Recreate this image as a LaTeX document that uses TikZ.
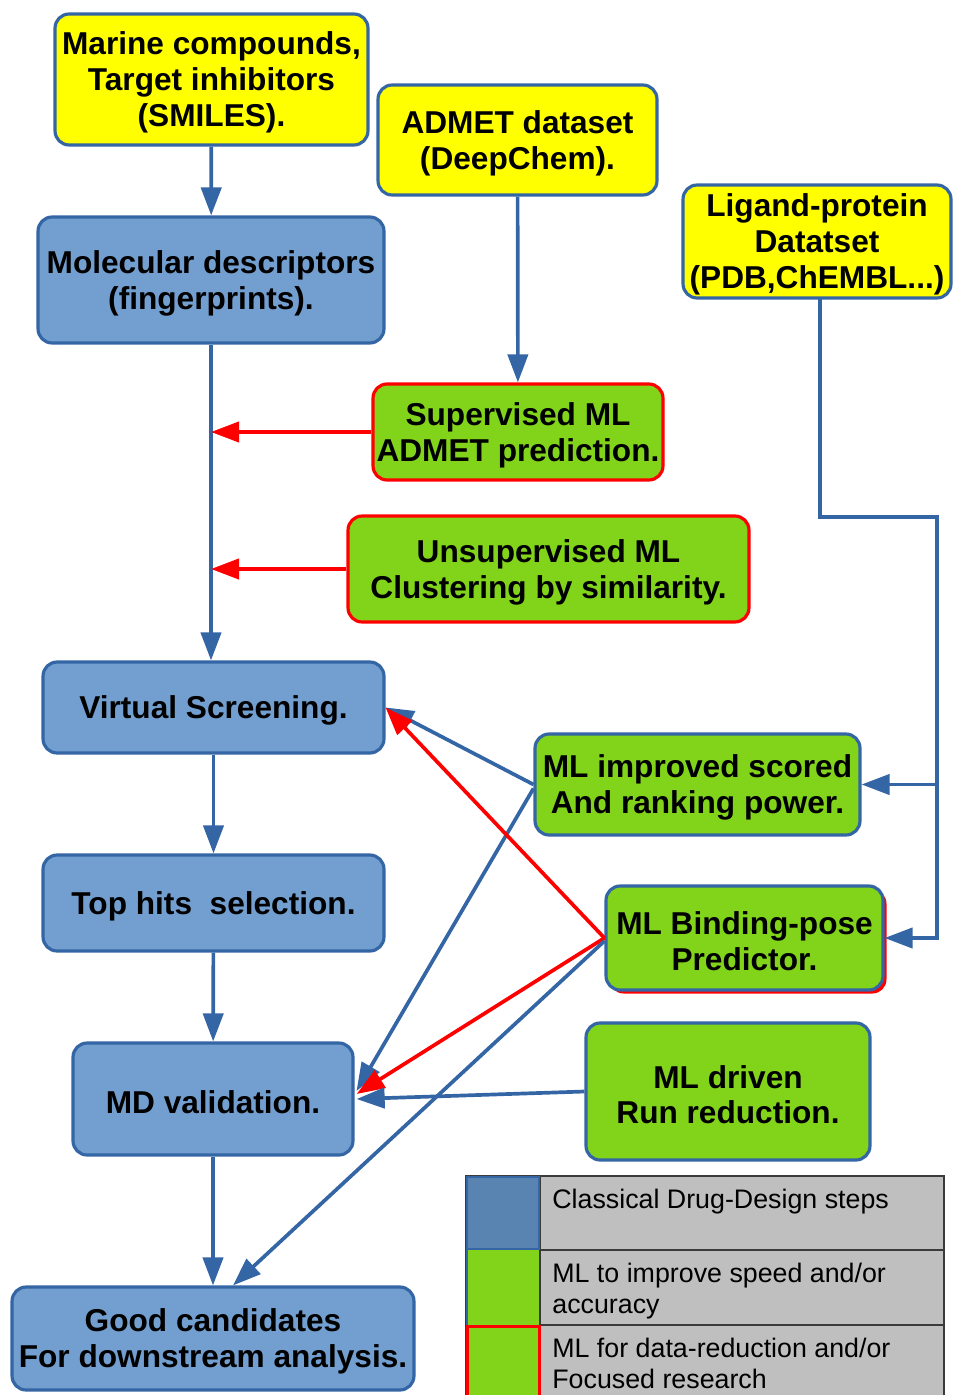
\documentclass[tikz,border=0pt]{standalone}
\usepackage{fontspec}
\setmainfont{Liberation Sans}
\usetikzlibrary{arrows.meta,shadows,calc}
\definecolor{yel}{HTML}{FFFF00}
\definecolor{nblue}{HTML}{729FCF}
\definecolor{bordblue}{HTML}{3465A4}
\definecolor{lime}{HTML}{81D41A}
\definecolor{lgray}{HTML}{BFBFBF}
\definecolor{swblue}{HTML}{5983B0}
\definecolor{gridc}{HTML}{3A3A3A}
\newcommand{\upsp}{\rule{0pt}{16.6pt}}
\begin{document}
\begin{tikzpicture}[x=0.02cm,y=-0.02cm,
  box/.style={rounded corners=8pt, line width=1.8pt, draw=bordblue, align=center, inner sep=0pt,
    font=\bfseries\fontsize{18}{20.4}\selectfont},
  ybox/.style={box, fill=yel},
  bbox/.style={box, fill=nblue},
  gbox/.style={box, fill=lime},
  rbox/.style={box, fill=lime, draw=red},
  tip/.style={-{Triangle[length=16pt,width=11.5pt]}},
  barrow/.style={draw=bordblue, line width=2.1pt, tip},
  rarrow/.style={draw=red, line width=2.1pt, tip},
  legtext/.style={anchor=base west, inner sep=0pt, font=\fontsize{15.25}{17.6}\selectfont}
]
\useasboundingbox (0,0) rectangle (953,1395);

% nodes
\node[ybox, minimum width=6.26cm, minimum height=2.62cm] (marine) at (211.5,79.5)
  {\upsp Marine compounds,\\Target inhibitors\\(SMILES).};
\node[ybox, minimum width=5.58cm, minimum height=2.2cm] (admet) at (517.5,140)
  {\upsp ADMET dataset\\(DeepChem).};
\node[ybox, minimum width=5.36cm, minimum height=2.26cm] (lig) at (817,241.5)
  {\upsp Ligand-protein\\Datatset\\(PDB,ChEMBL...)};
\node[bbox, minimum width=6.92cm, minimum height=2.52cm] (mol) at (211,280)
  {\upsp Molecular descriptors\\(fingerprints).};
\node[rbox, minimum width=5.8cm, minimum height=1.92cm] (sup) at (518,432)
  {\upsp Supervised ML\\ADMET prediction.};
\node[rbox, minimum width=8.02cm, minimum height=2.12cm] (unsup) at (548.5,569)
  {\upsp Unsupervised ML\\Clustering by similarity.};
\node[bbox, minimum width=6.82cm, minimum height=1.82cm] (vs) at (213.5,707.5)
  {\upsp Virtual Screening.};
\node[gbox, minimum width=6.5cm, minimum height=2.02cm] (mli) at (697.5,784.5)
  {\upsp ML improved scored\\And ranking power.};
\node[bbox, minimum width=6.82cm, minimum height=1.92cm] (top) at (213.5,903)
  {\upsp Top hits\ \ selection.};
\node[gbox, minimum width=5.54cm, minimum height=2.08cm,
  drop shadow={shadow xshift=2pt, shadow yshift=-2pt, fill=red, opacity=1}] (bind) at (744.5,938)
  {\upsp ML Binding-pose\\Predictor.};
\node[bbox, minimum width=5.6cm, minimum height=2.24cm] (md) at (213,1099)
  {\upsp MD validation.};
\node[gbox, minimum width=5.68cm, minimum height=2.74cm] (drv) at (728,1091.5)
  {\upsp ML driven\\Run reduction.};
\node[bbox, minimum width=8.04cm, minimum height=2.06cm] (good) at (213,1338.5)
  {\upsp Good candidates\\For downstream analysis.};

% junction coordinates
\coordinate (a1) at (211,432);
\coordinate (a2) at (211,569);
\coordinate (l0) at (820,298);
\coordinate (j1) at (937,517);
\coordinate (j2) at (937,784.5);
\coordinate (j3) at (937,938);

% main flow
\draw[barrow] (marine) -- (mol);
\draw[barrow] (mol.south) -- (mol.south |- vs.north);
\draw[barrow] (admet) -- (sup);
\draw[rarrow] (sup.west) -- (a1);
\draw[rarrow] (unsup.west) -- (a2);
\draw[barrow] (vs) -- (top);
\draw[barrow] (top) -- (md);
\draw[barrow] (md) -- (good);

% ligand feed
\draw[barrow] (l0) -- (l0 |- j1) -- (j1) -- (j3) -- (bind.east);
\draw[barrow] (j2) -- (mli.east);

% ML links
\draw[barrow] (mli.west) -- (vs.east);
\draw[barrow] ($(mli.west)+(0,4)$) -- ($(md.east)+(2,-8)$);
\draw[rarrow] (bind.west) -- (vs.east);
\draw[rarrow] (bind.west) -- ($(md.east)+(2,-5)$);
\draw[barrow] ($(bind.west)+(0,3)$) -- ($(good.north)+(20,0)$);
\draw[barrow] (drv.west) -- ($(md.east)+(2,0)$);

% legend
\fill[lgray] (540,1176) rectangle (944,1400);
\fill[swblue] (466,1176) rectangle (540,1250);
\fill[lime] (466,1250) rectangle (540,1400);
\draw[gridc, line width=1pt] (466,1176) rectangle (944,1400);
\draw[gridc, line width=1pt] (540,1250) -- (944,1250);
\draw[gridc, line width=1pt] (540,1325) -- (944,1325);
\draw[gridc, line width=1pt] (540,1176) -- (540,1400);
\draw[bordblue, line width=1.5pt] (467,1177) rectangle (539,1249);
\draw[bordblue, line width=1.5pt] (467,1250) -- (467,1325);
\draw[red, line width=1.7pt] (467,1400) -- (467,1326) -- (539,1326) -- (539,1400);
\node[legtext] (l1) at (552,1208) {Classical Drug-Design steps};
\node[legtext] (l2) at (552,1282) {ML to improve speed and/or};
\node[legtext] (l3) at (552,1313) {accuracy};
\node[legtext] (l4) at (552,1357) {ML for data-reduction and/or};
\node[legtext] (l5) at (552,1388) {Focused research};
\end{tikzpicture}
\end{document}
